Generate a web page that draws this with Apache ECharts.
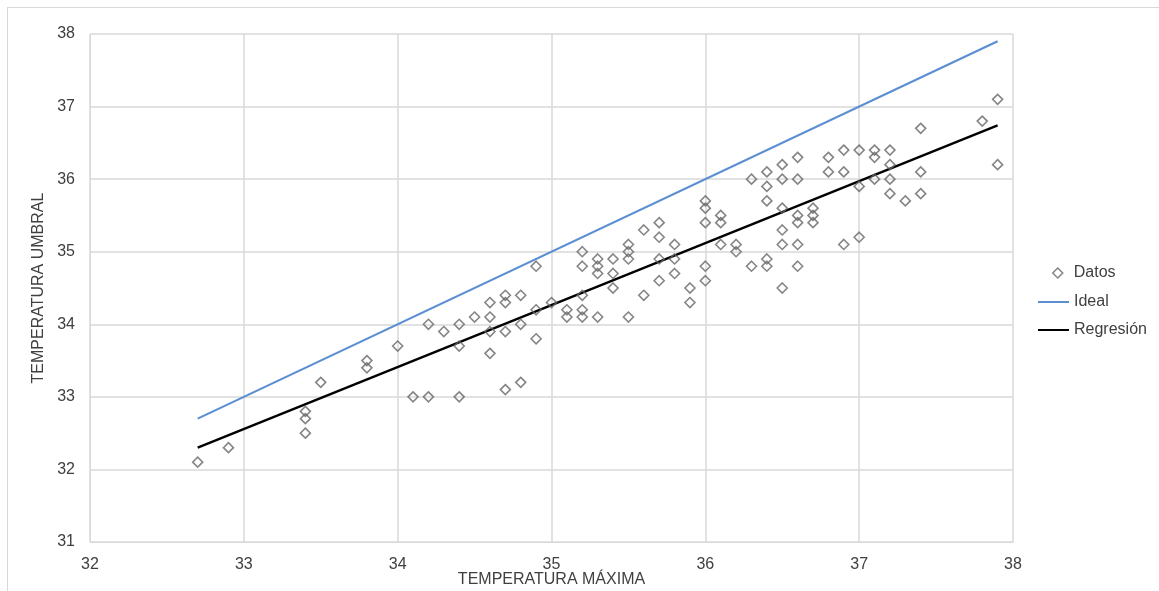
<!DOCTYPE html>
<html>
<head>
<meta charset="utf-8">
<script src="https://cdn.jsdelivr.net/npm/echarts@6/dist/echarts.min.js"></script>
<style>html,body{margin:0;padding:0;background:#fff;}#c{width:1159px;height:591px;}</style>
</head>
<body>
<div id="c"></div>
<script>
// Datos: [temperatura máxima, temperatura umbral]
const datosX = [32.7,32.9,33.4,33.4,33.4,33.5,33.8,33.8,34.0,34.1,34.2,34.2,34.3,34.4,34.4,34.4,34.5,
  34.6,34.6,34.6,34.6,34.7,34.7,34.7,34.7,34.8,34.8,34.8,34.9,34.9,34.9,35.0,35.1,35.1,
  35.2,35.2,35.2,35.2,35.2,35.3,35.3,35.3,35.3,35.4,35.4,35.4,35.5,35.5,35.5,35.5,35.6,35.6,
  35.7,35.7,35.7,35.7,35.8,35.8,35.8,35.9,35.9,36.0,36.0,36.0,36.0,36.0,36.1,36.1,36.1,36.2,36.2,
  36.3,36.3,36.4,36.4,36.4,36.4,36.4,36.5,36.5,36.5,36.5,36.5,36.5,36.6,36.6,36.6,36.6,36.6,36.6,
  36.7,36.7,36.7,36.8,36.8,36.9,36.9,36.9,37.0,37.0,37.0,37.1,37.1,37.1,37.2,37.2,37.2,37.2,37.3,
  37.4,37.4,37.4,37.8,37.9,37.9];
const datosY = [32.1,32.3,32.8,32.7,32.5,33.2,33.5,33.4,33.7,33.0,34.0,33.0,33.9,34.0,33.7,33.0,34.1,
  34.3,34.1,33.9,33.6,34.4,34.3,33.9,33.1,34.4,34.0,33.2,34.8,34.2,33.8,34.3,34.2,34.1,
  35.0,34.8,34.4,34.2,34.1,34.9,34.8,34.7,34.1,34.9,34.7,34.5,35.1,35.0,34.9,34.1,35.3,34.4,
  35.4,35.2,34.9,34.6,35.1,34.9,34.7,34.5,34.3,35.7,35.6,35.4,34.8,34.6,35.5,35.4,35.1,35.1,35.0,
  36.0,34.8,36.1,35.9,35.7,34.9,34.8,36.2,36.0,35.6,35.3,35.1,34.5,36.3,36.0,35.5,35.4,35.1,34.8,
  35.6,35.5,35.4,36.3,36.1,36.4,36.1,35.1,36.4,35.9,35.2,36.4,36.3,36.0,36.4,36.2,36.0,35.8,35.7,
  36.7,36.1,35.8,36.8,37.1,36.2];
const idealLine = [[32.7,32.7],[37.9,37.9]];
const regresionLine = [[32.7,32.30],[37.9,36.74]];
const seriesNames = ['Datos','Ideal','Regresión'];
const xName = 'TEMPERATURA MÁXIMA';
const yName = 'TEMPERATURA UMBRAL';

const datos = datosX.map((x,i)=>[x,datosY[i]]);
const font = 'Liberation Sans, Arial, sans-serif';
const textCol = '#404040';
const chart = echarts.init(document.getElementById('c'));
chart.setOption({
  animation:false,
  backgroundColor:'#fff',
  textStyle:{fontFamily:font},
  grid:{left:90,right:146,top:34,bottom:49,containLabel:false,outerBoundsMode:'none'},
  graphic:[
    {type:'line',shape:{x1:7,y1:7.5,x2:1159,y2:7.5},style:{stroke:'#d9d9d9',lineWidth:1}},
    {type:'line',shape:{x1:7.5,y1:7,x2:7.5,y2:591},style:{stroke:'#d9d9d9',lineWidth:1}}
  ],
  legend:[
    {
      orient:'vertical',left:1047,top:260,itemWidth:10,itemHeight:10,
      textStyle:{fontFamily:font,fontSize:16,color:textCol,padding:[0,0,0,6]},
      data:[{name:seriesNames[0],icon:'diamond',
             itemStyle:{color:'#ffffff',borderColor:'#666666',borderWidth:1.5}}]
    },
    {
      orient:'vertical',left:1033,top:289,itemWidth:31,itemHeight:2,itemGap:12,
      textStyle:{fontFamily:font,fontSize:16,color:textCol},
      data:[{name:seriesNames[1],icon:'rect'},{name:seriesNames[2],icon:'rect'}]
    }
  ],
  xAxis:{
    type:'value',min:32,max:38,interval:1,
    name:xName,nameLocation:'middle',nameGap:30,nameMoveOverlap:false,
    nameTextStyle:{fontFamily:font,fontSize:16,color:textCol},
    axisLine:{show:true,lineStyle:{color:'#d9d9d9'}},
    axisTick:{show:false},
    axisLabel:{fontFamily:font,fontSize:16,color:textCol,margin:15},
    splitLine:{show:true,lineStyle:{color:'#d9d9d9',width:1.5}}
  },
  yAxis:{
    type:'value',min:31,max:38,interval:1,
    name:yName,nameLocation:'middle',nameGap:43,nameMoveOverlap:false,
    nameTextStyle:{fontFamily:font,fontSize:16,color:textCol},
    axisLine:{show:true,lineStyle:{color:'#d9d9d9'}},
    axisTick:{show:false},
    axisLabel:{fontFamily:font,fontSize:16,color:textCol,margin:15},
    splitLine:{show:true,lineStyle:{color:'#d9d9d9',width:1.5}}
  },
  series:[
    {name:seriesNames[0],type:'scatter',symbol:'diamond',symbolSize:10,z:5,
     itemStyle:{color:'rgba(255,255,255,0)',borderColor:'#666666',borderWidth:1.6},
     data:datos},
    {name:seriesNames[1],type:'line',symbol:'none',z:3,
     lineStyle:{color:'#5b8fd2',width:2.2},itemStyle:{color:'#5b8fd2'},data:idealLine},
    {name:seriesNames[2],type:'line',symbol:'none',z:3,
     lineStyle:{color:'#000000',width:2.4},itemStyle:{color:'#000000'},data:regresionLine}
  ]
});
</script>
</body>
</html>
